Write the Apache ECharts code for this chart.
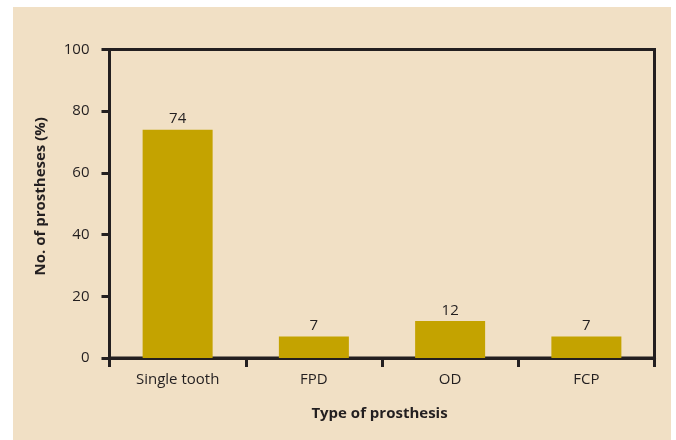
<!DOCTYPE html>
<html>
<head>
<meta charset="utf-8">
<script src="https://cdn.jsdelivr.net/npm/echarts@6/dist/echarts.min.js"></script>
<style>
  html, body { margin: 0; padding: 0; background: #ffffff; }
  #panel { position: absolute; left: 13px; top: 7px; width: 658px; height: 433px; background: #f1e0c5; }
  #chart { position: absolute; left: 0; top: 0; width: 676px; height: 440px; }
</style>
</head>
<body>
<div id="panel"></div>
<div id="chart"></div>
<script>
// Share of prostheses by type
const categories = ['Single tooth', 'FPD', 'OD', 'FCP'];
const percentages = [74, 7, 12, 7];
const yTicks = [0, 20, 40, 60, 80, 100];

const ink = '#231f20';
const font = 'Open Sans';

const chart = echarts.init(document.getElementById('chart'), null, { renderer: 'canvas' });

chart.setOption({
  backgroundColor: 'transparent',
  animation: false,
  grid: {
    left: 109.5, top: 49.5, width: 545, height: 308.5,
    show: true, borderColor: ink, borderWidth: 3, backgroundColor: 'transparent'
  },
  xAxis: {
    type: 'category',
    data: categories,
    boundaryGap: true,
    name: 'Type of prosthesis',
    nameLocation: 'middle',
    nameGap: 48,
    nameTextStyle: { color: ink, fontFamily: font, fontSize: 15, fontWeight: 'bold', padding: [0, 5, 0, 0] },
    axisLine: { show: true, lineStyle: { color: ink, width: 3 } },
    axisTick: { show: true, inside: false, length: 9, interval: 0, alignWithLabel: false, lineStyle: { color: ink, width: 3 } },
    axisLabel: { color: ink, fontFamily: font, fontSize: 15, margin: 14, interval: 0 },
    splitLine: { show: false }
  },
  yAxis: {
    type: 'value',
    min: yTicks[0],
    max: yTicks[yTicks.length - 1],
    interval: yTicks[1] - yTicks[0],
    name: 'No. of prostheses (%)',
    nameLocation: 'middle',
    nameGap: 61,
    nameTextStyle: { color: ink, fontFamily: font, fontSize: 15, fontWeight: 'bold', padding: [0, 0, 0, 15] },
    axisLine: { show: true, lineStyle: { color: ink, width: 3 } },
    axisTick: { show: true, inside: false, length: 8, lineStyle: { color: ink, width: 3 } },
    axisLabel: { color: ink, fontFamily: font, fontSize: 15, margin: 20 },
    splitLine: { show: false }
  },
  series: [{
    type: 'bar',
    data: percentages,
    barWidth: 70,
    itemStyle: { color: '#c4a300' },
    label: {
      show: true, position: 'top', distance: 3,
      color: ink, fontFamily: font, fontSize: 15
    }
  }]
});
</script>
</body>
</html>
